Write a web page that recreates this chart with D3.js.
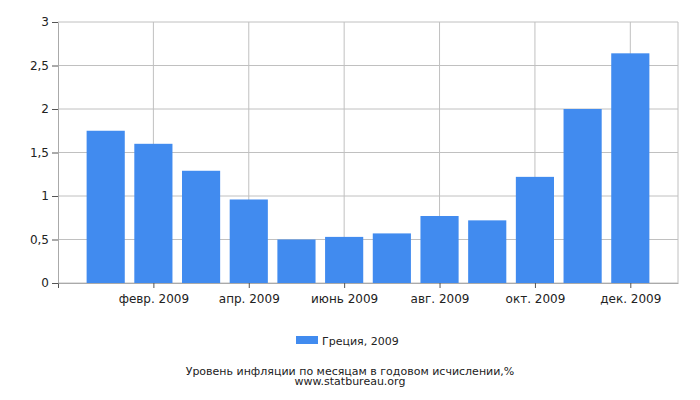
<!DOCTYPE html>
<html>
<head>
<meta charset="utf-8">
<script src="https://cdn.jsdelivr.net/npm/d3@7"></script>
<style>
  body { margin: 0; background: #fff; }
  text { font-family: "DejaVu Sans", sans-serif; fill: #222; }
</style>
</head>
<body>
<div id="svg-container"></div>
<script>
// Chart data
const months = ["янв. 2009", "февр. 2009", "март 2009", "апр. 2009", "май 2009", "июнь 2009",
                "июль 2009", "авг. 2009", "сент. 2009", "окт. 2009", "нояб. 2009", "дек. 2009"];
const values = [1.75, 1.60, 1.29, 0.96, 0.50, 0.53, 0.57, 0.77, 0.72, 1.22, 2.00, 2.64];
const yTicks = [0, 0.5, 1, 1.5, 2, 2.5, 3];
const xTickIdx = [1, 3, 5, 7, 9, 11];
const seriesName = "Греция, 2009";
const title = "Уровень инфляции по месяцам в годовом исчислении,%";
const source = "www.statbureau.org";

const width = 700;
const height = 400;
const margins = { top: 22, right: 22, bottom: 117, left: 58 };
const innerWidth = width - margins.left - margins.right;
const innerHeight = height - margins.top - margins.bottom;

const barColor = "#418bef";
const gridColor = "#c0c0c0";
const axisColor = "#aaaaaa";

// slot 0 is empty, months sit at slots 1..12
const xScale = d3.scaleLinear().domain([0, 13]).range([0, innerWidth]);
const yScale = d3.scaleLinear().domain([0, 3]).range([innerHeight, 0]);
const barW = (xScale(1) - xScale(0)) * 0.8;

const fmt = d => String(d).replace(".", ",");

const svg = d3.select("#svg-container")
  .append("svg")
    .attr("width", width)
    .attr("height", height);

const mainG = svg.append("g")
  .attr("transform", `translate(${margins.left}, ${margins.top})`);

// horizontal grid
mainG.append("g")
  .selectAll("line")
  .data(yTicks)
  .enter()
  .append("line")
    .attr("x1", 0).attr("x2", innerWidth)
    .attr("y1", d => yScale(d)).attr("y2", d => yScale(d))
    .attr("stroke", gridColor);

// vertical grid
mainG.append("g")
  .selectAll("line")
  .data(xTickIdx)
  .enter()
  .append("line")
    .attr("x1", d => xScale(d + 1)).attr("x2", d => xScale(d + 1))
    .attr("y1", 0).attr("y2", innerHeight)
    .attr("stroke", gridColor);

// right border
mainG.append("line")
  .attr("x1", innerWidth).attr("x2", innerWidth)
  .attr("y1", 0).attr("y2", innerHeight)
  .attr("stroke", gridColor);

// bars
mainG.selectAll("rect.bar")
  .data(values)
  .enter()
  .append("rect")
    .attr("class", "bar")
    .attr("x", (d, i) => xScale(i + 1) - barW / 2)
    .attr("y", d => yScale(d))
    .attr("width", barW)
    .attr("height", d => innerHeight - yScale(d))
    .attr("fill", barColor);

// x axis
const xAxis = mainG.append("g")
  .attr("transform", `translate(0, ${innerHeight})`)
  .call(d3.axisBottom(xScale)
    .tickValues([0].concat(xTickIdx.map(i => i + 1)))
    .tickFormat(d => d === 0 ? "" : months[d - 1])
    .tickSize(5)
    .tickSizeOuter(0)
    .tickPadding(6));

// y axis
const yAxis = mainG.append("g")
  .call(d3.axisLeft(yScale)
    .tickValues(yTicks)
    .tickFormat(fmt)
    .tickSize(6)
    .tickSizeOuter(0)
    .tickPadding(3));

[xAxis, yAxis].forEach(a => {
  a.select(".domain").attr("stroke", axisColor);
  a.selectAll(".tick line").attr("stroke", "#555");
  a.selectAll("text")
    .style("font-family", "DejaVu Sans, sans-serif")
    .style("font-size", "12px")
    .attr("fill", "#222");
});

// legend
const legend = svg.append("g").attr("transform", "translate(296, 336)");
legend.append("rect")
  .attr("width", 22).attr("height", 8)
  .attr("fill", barColor);
legend.append("text")
  .attr("x", 26).attr("y", 8.5)
  .style("font-size", "11px")
  .text(seriesName);

// title
svg.append("text")
  .attr("x", 350).attr("y", 375)
  .attr("text-anchor", "middle")
  .style("font-size", "11px")
  .text(title);

svg.append("text")
  .attr("x", 350).attr("y", 385)
  .attr("text-anchor", "middle")
  .style("font-size", "11px")
  .text(source);
</script>
</body>
</html>
